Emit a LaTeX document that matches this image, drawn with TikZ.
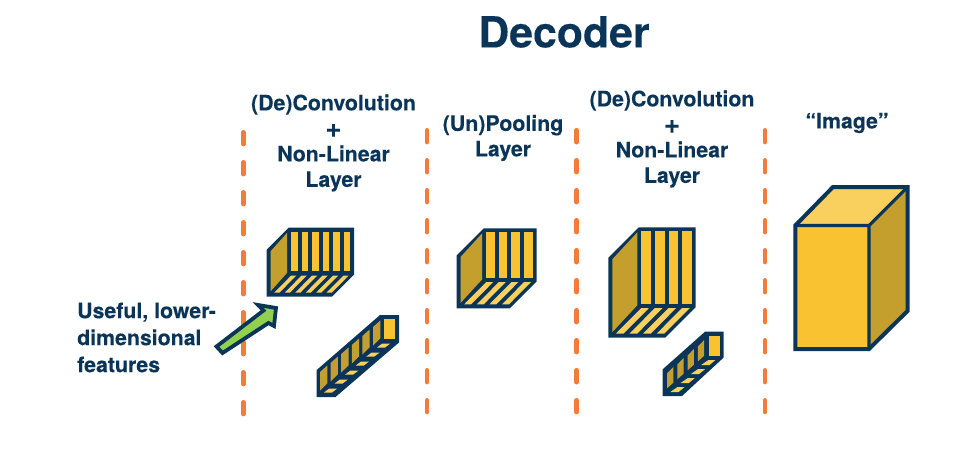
\documentclass[tikz,border=0pt]{standalone}
\usepackage{fontspec}
\setmainfont[BoldFeatures={FakeBold=0.2}]{TeX Gyre Heros}
\definecolor{navy}{HTML}{0B3558}
\definecolor{gold}{HTML}{F8C231}
\definecolor{darkgold}{HTML}{C59F2D}
\definecolor{lightgold}{HTML}{F9D05E}
\definecolor{dashorange}{HTML}{F47B3A}
\definecolor{arrowgreen}{HTML}{92D14F}
\tikzset{
  heading/.style={font=\bfseries\fontsize{42.8}{46}\selectfont,text=navy,inner sep=0pt},
  label/.style={font=\bfseries\fontsize{21.3}{25.5}\selectfont,text=navy,align=center,inner sep=0pt},
  sidelabel/.style={font=\bfseries\fontsize{21.3}{27}\selectfont,text=navy,align=left,inner sep=0pt,anchor=west},
  divider/.style={draw=dashorange,line width=4.6pt,line cap=round,dash pattern=on 11.8pt off 18.2pt},
}
\newcommand{\bigplus}{\raisebox{-1.2pt}{\fontsize{27}{25.5}\selectfont +}}
% L R T B depth n stripes
\newcommand{\slicedcube}[6]{%
  \pgfmathsetmacro{\cL}{#1}\pgfmathsetmacro{\cR}{#2}\pgfmathsetmacro{\cT}{#3}\pgfmathsetmacro{\cB}{#4}\pgfmathsetmacro{\cD}{#5}%
  \fill[navy] (\cL,\cT+\cD)--(\cL+\cD,\cT)--(\cR,\cT)--(\cR,\cB-\cD)--(\cR-\cD,\cB)--(\cL,\cB)--cycle;
  \fill[darkgold] (\cL+4,\cT+\cD+1.5)--(\cL+\cD-1.5,\cT+5)--(\cL+\cD-1.5,\cB-\cD-2)--(\cL+4,\cB-5.5)--cycle;
  \pgfmathsetmacro{\cP}{(\cR-4-(\cL+\cD+2.5)+4)/#6}%
  \pgfmathsetmacro{\cW}{\cP-4}%
  \pgfmathtruncatemacro{\cN}{#6-1}%
  \foreach \k in {0,...,\cN}{
    \pgfmathsetmacro{\sx}{\cL+\cD+2.5+\k*\cP}
    \fill[gold] (\sx,\cT+4) rectangle (\sx+\cW,\cB-\cD-3.5);
    \fill[lightgold] (\sx,\cB-\cD+0.8)--(\sx+\cW*0.8,\cB-\cD+0.8)--(\sx+\cW*0.8-\cD+5,\cB-4)--(\sx-\cD+5,\cB-4)--cycle;
  }
}
\begin{document}
\begin{tikzpicture}[x=1pt,y=-1pt]
\useasboundingbox (0,0) rectangle (974,452);
\node[heading] (title) at (564,32) {Decoder};
\node[label] (l1) at (333.5,143) {(De)Convolution\\\bigplus\\Non-Linear\\Layer};
\node[label] (l2) at (503,138) {(Un)Pooling\\Layer};
\node[label] (l3) at (672,139) {(De)Convolution\\\bigplus\\Non-Linear\\Layer};
\node[label] (l4) at (847,123) {“Image”};
\node[sidelabel] (side) at (77,337.5) {Useful, lower-\\dimensional\\features};
% dividers
\foreach \x/\st/\en/\nm in {243.3/132.3/414/a,427/130.3/412/b,576.5/130.3/412/c,765/130.3/412/d}{
  \coordinate (top\nm) at (\x,\st);
  \coordinate (bot\nm) at (\x,\en);
  \draw[divider] (top\nm) -- (bot\nm);
}
% cubes
\slicedcube{266.7}{354}{227.7}{296.7}{22}{6}
\slicedcube{456.7}{536.7}{228.3}{308.3}{27}{4}
\slicedcube{608.3}{695.7}{227.3}{337.7}{30.5}{4}
% long stack 1
\fill[navy] (380,315)--(399,315)--(399,342.5)--(335.5,397)--(316.7,397)--(316.7,370)--cycle;
\fill[gold] (384,319) rectangle (395,339);
\foreach \i in {0,...,5}{
  \begin{scope}[shift={(10.6*\i,-9*\i)}]
    \fill[darkgold] (320,372)--(327.3,365.5)--(327.3,383.3)--(320,390.5)--cycle;
    \fill[lightgold] (324,392.5)--(329.3,388.5)--(337.3,388.5)--(332,392.5)--cycle;
  \end{scope}
}
% long stack 2
\fill[navy] (705,331.7)--(723.7,331.7)--(723.7,357.5)--(682,396)--(662.7,396)--(662.7,369.3)--cycle;
\fill[gold] (709,335.7) rectangle (720,355.7);
\foreach \i in {0,...,3}{
  \begin{scope}[shift={(10.3*\i,-9*\i)}]
    \fill[darkgold] (667,373.5)--(673.3,367)--(673.3,382.7)--(667,388.3)--cycle;
    \fill[lightgold] (670,392.2)--(677.3,387.2)--(684.3,387.2)--(678.3,392.2)--cycle;
  \end{scope}
}
% image block
\fill[gold] (795.3,225.5) rectangle (869,349);
\fill[lightgold] (795.3,225.5)--(833,187)--(907.5,187)--(869,225.5)--cycle;
\fill[darkgold] (869,225.5)--(907.5,187)--(907.5,311)--(869,349)--cycle;
\draw[navy,line width=4pt,line join=miter] (795.3,225.5)--(833,187)--(907.5,187)--(907.5,311)--(869,349)--(795.3,349)--cycle;
\draw[navy,line width=3.2pt] (795.3,225.5)--(869,225.5)--(907.5,187) (869,225.5)--(869,349);
% green arrow
\draw[navy,fill=arrowgreen,line width=3.8pt,line join=miter] (216.5,346.5)--(222.5,353)--(268.5,323)--(274,326)--(276,308)--(258,305)--(263.5,310.5)--cycle;
\end{tikzpicture}
\end{document}
